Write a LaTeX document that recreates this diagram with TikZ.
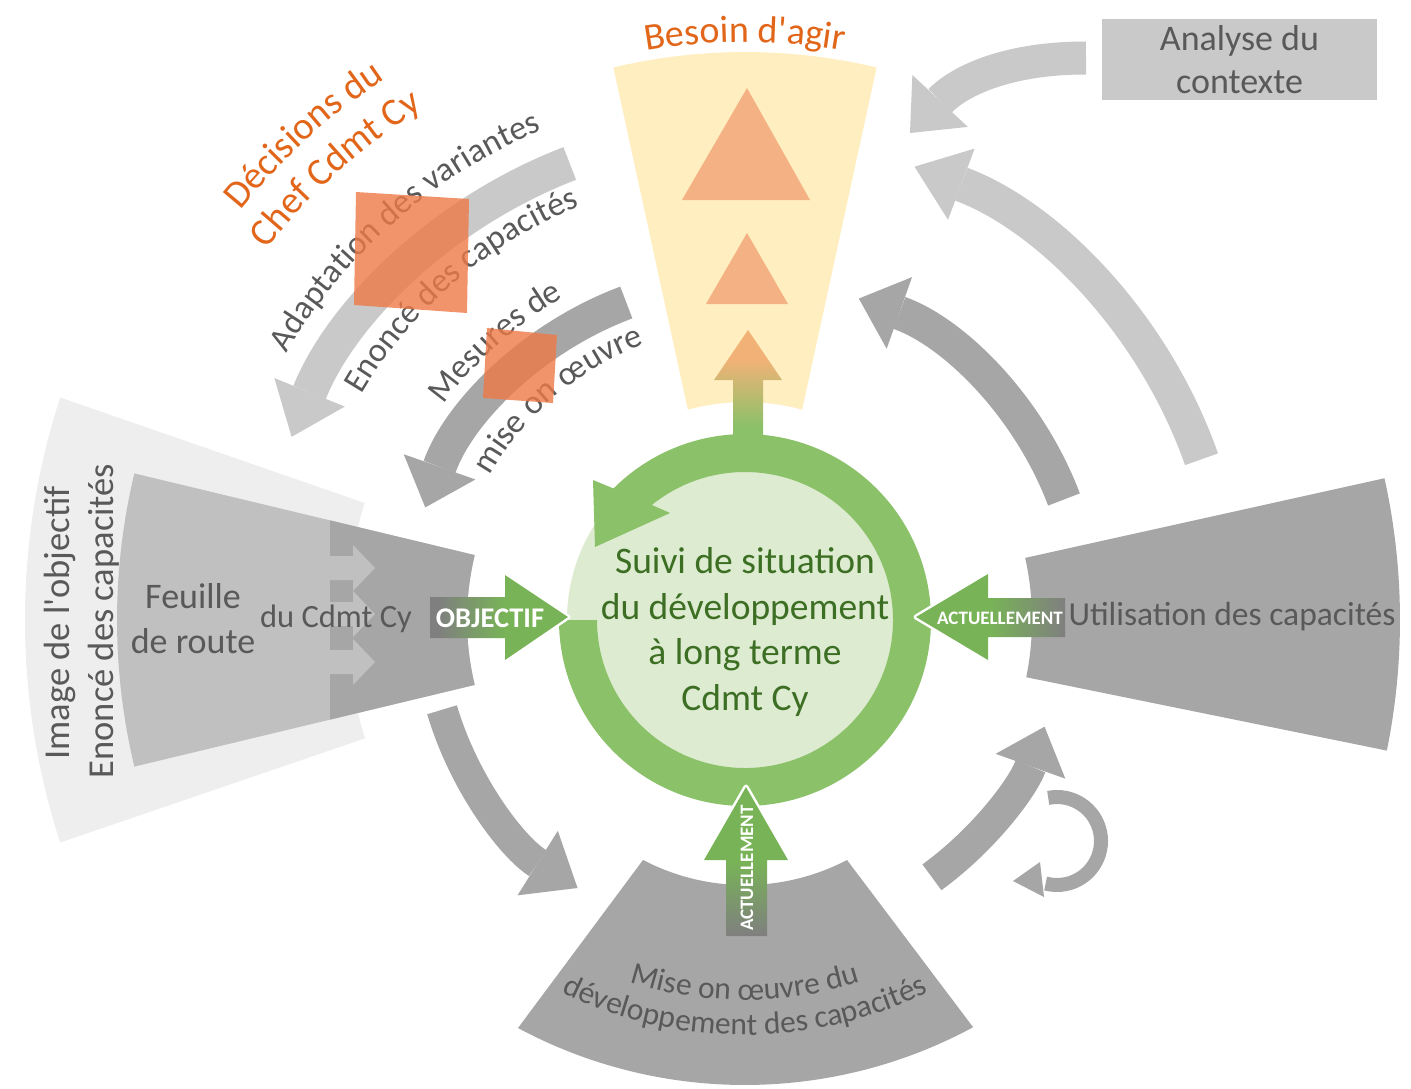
\documentclass[tikz,border=0pt]{standalone}
\usepackage{fontspec}
\setmainfont{Carlito}
\usetikzlibrary{arrows.meta,decorations.text}
\definecolor{vlgray}{HTML}{EEEEEE}
\definecolor{mgray}{HTML}{C0C0C0}
\definecolor{dgray}{HTML}{A6A6A6}
\definecolor{lgray}{HTML}{C9C9C9}
\definecolor{txtgray}{HTML}{595959}
\definecolor{ringgreen}{HTML}{8BC169}
\definecolor{diskgreen}{HTML}{DDEBD0}
\definecolor{darkgreen}{HTML}{3C6E23}
\definecolor{arrgreen}{HTML}{78B357}
\definecolor{arrgray}{HTML}{7F7F7F}
\definecolor{orangetxt}{HTML}{E2661A}
\definecolor{tricol}{HTML}{F4B183}
\definecolor{yel}{HTML}{FFEEBF}
\definecolor{sqcol}{HTML}{EE7A48}
\definecolor{tipor}{HTML}{F2B277}
\pgfdeclarehorizontalshading{objshade}{100bp}{color(0bp)=(arrgray); color(28bp)=(arrgray); color(52bp)=(arrgreen); color(100bp)=(arrgreen)}
\pgfdeclarehorizontalshading{actshade}{100bp}{color(0bp)=(arrgreen); color(50bp)=(arrgreen); color(75bp)=(arrgray); color(100bp)=(arrgray)}
\pgfdeclareverticalshading{actvshade}{100bp}{color(0bp)=(arrgray); color(25bp)=(arrgray); color(50bp)=(arrgreen); color(100bp)=(arrgreen)}
\pgfdeclareverticalshading{upshade}{100bp}{color(0bp)=(ringgreen); color(32bp)=(ringgreen); color(62bp)=(tipor); color(100bp)=(tipor)}
\newcommand\gtxt{\fontsize{34}{40}\selectfont}
\newcommand\otxt{\fontsize{38.5}{44}\selectfont}
\newcommand\btxt{\fontsize{38}{44}\selectfont}
\newcommand\mtxt{\fontsize{31.5}{36}\selectfont}
\tikzset{
  graytext/.style={text=txtgray},
  whitebold/.style={text=white, font=\bfseries\fontsize{19}{22}\selectfont},
  headline/.style={white, line width=5, line join=round},
}
\begin{document}
\begin{tikzpicture}[x=1pt,y=-1pt]
\useasboundingbox (0,0) rectangle (1411,1088);
\fill[white] (0,0) rectangle (1411,1088);

% ---------- fans and sectors ----------
\begin{scope}[shift={(745,620)}]
  \fill[vlgray] (198:720) arc[start angle=198,end angle=162,radius=720] -- (162.7:398) arc[start angle=162.7,end angle=197.1,radius=398] -- cycle;
  \fill[mgray] (193.5:628) arc[start angle=193.5,end angle=166.5,radius=628] -- (166.5:278) arc[start angle=166.5,end angle=193.5,radius=278] -- cycle;
  \fill[dgray] (-415,-99.6) -- (193.5:278) arc[start angle=193.5,end angle=166.5,radius=278] -- (-415,99.6) -- cycle;
  \foreach \yc in {-52,-6,42}
    \fill[mgray] (-419,\yc-12) -- (-392,\yc-12) -- (-392,\yc-23) -- (-370,\yc) -- (-392,\yc+23) -- (-392,\yc+12) -- (-419,\yc+12) -- cycle;
  % right fan
  \fill[dgray] (-12.5:655) arc[start angle=-12.5,end angle=11.5,radius=655] -- (11.5:287) arc[start angle=11.5,end angle=-12.5,radius=287] -- cycle;
  % yellow sector
  \fill[yel] (-103.4:568) arc[start angle=-103.4,end angle=-76.6,radius=568] -- (-74.8:218) arc[start angle=-74.8,end angle=-105.2,radius=218] -- cycle;
\end{scope}
% bottom fan
\fill[dgray] (643,860) -- (518,1028) arc[start angle=118.2,end angle=61.6,radius=480] -- (847,860) arc[start angle=62.4,end angle=117.6,radius=220] -- cycle;

% ---------- curved gray arrows ----------
\begin{scope}[shift={(745,620)}]
  \draw[lgray, line width=35, -{Triangle[length=48pt,width=76pt,line width=0pt]}] (-111:489) arc[start angle=-111,end angle=-158,radius=489];
  \draw[lgray, line width=35, -{Triangle[length=50pt,width=76pt,line width=0pt]}] (-19.4:484) arc[start angle=-19.4,end angle=-69.5,radius=484];
  \draw[dgray, line width=34, -{Triangle[length=43pt,width=76pt,line width=0pt]}] (-110.5:339) arc[start angle=-110.5,end angle=-160.6,radius=339];
  \draw[dgray, line width=34, -{Triangle[length=43pt,width=76pt,line width=0pt]}] (-20.7:341) arc[start angle=-20.7,end angle=-70.5,radius=341];
  \draw[dgray, line width=31, -{Triangle[length=47pt,width=76pt,line width=0pt]}] (163.5:316) arc[start angle=163.5,end angle=122,radius=316];
\end{scope}
% loop arrow
\draw[dgray, line width=14] (1057,841) ++(-101.5:44) arc[start angle=-101.5,end angle=105,radius=44];
\fill[dgray] (1040,862) -- (1013,881) -- (1044,897) -- cycle;
\begin{scope}[shift={(745,620)}]
  \draw[dgray, line width=32, -{Triangle[length=42pt,width=74pt,line width=0pt]}] (54:318) arc[start angle=54,end angle=19.6,radius=318];
\end{scope}
% arrow from the context analysis
\draw[lgray, line width=33, -{Triangle[length=44pt,width=76pt,line width=0pt]}] (1086,58) .. controls (1000,58) and (955,85) .. (910,133);
\node[fill=lgray, minimum width=275pt, minimum height=81pt, inner sep=0pt, align=center, font=\fontsize{36}{43}\selectfont, graytext] (analyse) at (1239.5,59.5) {Analyse du\\contexte};

% ---------- triangles ----------
\fill[tricol] (747,88) -- (810,200) -- (682,200) -- cycle;
\fill[tricol] (747,233) -- (788,304) -- (706,304) -- cycle;

% ---------- central circle ----------
\shade[shading=upshade] (748,330) -- (782,380) -- (763,380) -- (763,442) -- (733,442) -- (733,380) -- (714,380) -- cycle;
\begin{scope}[shift={(745,620)}]
  \fill[diskgreen] (0,0) circle[radius=178];
  \fill[ringgreen] (180:186) arc[start angle=180,end angle=-135,radius=186] -- (-152,-140) -- (-150,-73) -- (-75,-107) -- (-129:148) arc[start angle=-129,end angle=180,radius=148] -- cycle;
\end{scope}

% ---------- incoming green arrows ----------
\draw[headline] (505,575) -- (568,617) -- (505,660);
\shade[shading=objshade] (430,597) -- (505,597) -- (505,575) -- (568,617) -- (505,660) -- (505,638) -- (430,638) -- cycle;
\draw[headline] (988,574) -- (916,617) -- (988,660);
\shade[shading=actshade] (1065,598) -- (988,598) -- (988,574) -- (916,617) -- (988,660) -- (988,637) -- (1065,637) -- cycle;
\draw[headline] (704,860) -- (746,787) -- (788,860);
\shade[shading=actvshade] (726,936) -- (726,860) -- (704,860) -- (746,787) -- (788,860) -- (767,860) -- (767,936) -- cycle;

% ---------- texts ----------
\node[font=\bfseries\fontsize{28.5}{30}\selectfont, text=white] (objtxt) at (490,618) {OBJECTIF};
\node[whitebold] (acttxt) at (1000,618) {ACTUELLEMENT};
\node[whitebold, rotate=90] (actvtxt) at (747,868) {ACTUELLEMENT};
\node[font=\fontsize{37.5}{45.5}\selectfont, text=darkgreen, align=center] (suivi) at (745,632) {Suivi de situation\\du développement\\à long terme\\Cdmt Cy};
\node[font=\fontsize{36}{45}\selectfont, graytext, align=center] (feuille) at (193,619) {Feuille\\de route};
\node[font=\fontsize{32.5}{38}\selectfont, graytext] (ducdmt) at (336,619) {du Cdmt Cy};
\node[font=\fontsize{36.5}{40}\selectfont, graytext, rotate=90] (imageobj) at (60,623) {Image de l\textquotesingle objectif};
\node[font=\fontsize{36.5}{40}\selectfont, graytext, rotate=90] (enoncev) at (104,621) {Enoncé des capacités};
\node[font=\fontsize{33.5}{40}\selectfont, graytext] (util) at (1232,617) {Utilisation des capacités};

\begin{scope}[shift={(745,620)}]
  \path[decorate, decoration={text along path, text color=orangetxt, text={|\btxt|Besoin d{\textquotesingle}agir}, text align=center}] (-110:578) arc[start angle=-110,end angle=-70,radius=578];
  \path[decorate, decoration={text along path, text color=orangetxt, text={|\otxt|Décisions du}, text align=center}] (-160:650) arc[start angle=-160,end angle=-104.6,radius=650];
  \path[decorate, decoration={text along path, text color=orangetxt, text={|\otxt|Chef Cdmt Cy}, text align=center}] (-160:605) arc[start angle=-160,end angle=-104.4,radius=605];
  \path[decorate, decoration={text along path, text color=txtgray, text={|\gtxt|Adaptation des variantes}, text align=center}] (-165:530) arc[start angle=-165,end angle=-97.4,radius=530];
  \path[decorate, decoration={text along path, text color=txtgray, text={|\gtxt|Enoncé des capacités}, text align=center}] (-165:445) arc[start angle=-165,end angle=-96.4,radius=445];
  \path[decorate, decoration={text along path, text color=txtgray, text={|\gtxt|Mesures de}, text align=center}] (-160:370) arc[start angle=-160,end angle=-103.8,radius=370];
  \path[decorate, decoration={text along path, text color=txtgray, text={|\gtxt|mise on œuvre}, text align=center}] (-165:293) arc[start angle=-165,end angle=-95.6,radius=293];
  \path[decorate, decoration={text along path, text color=txtgray, text={|\mtxt|Mise on œuvre du}, text align=center}] (125:380) arc[start angle=125,end angle=55,radius=380];
  \path[decorate, decoration={text along path, text color=txtgray, text={|\mtxt|développement des capacités}, text align=center}] (130:415) arc[start angle=130,end angle=50,radius=415];
\end{scope}

% ---------- decision squares ----------
\fill[sqcol, opacity=0.8] (356,192) -- (469,199) -- (467,313) -- (354,305) -- cycle;
\fill[sqcol, opacity=0.8] (487,328) -- (557,335) -- (553,403) -- (483,398) -- cycle;
\end{tikzpicture}
\end{document}
